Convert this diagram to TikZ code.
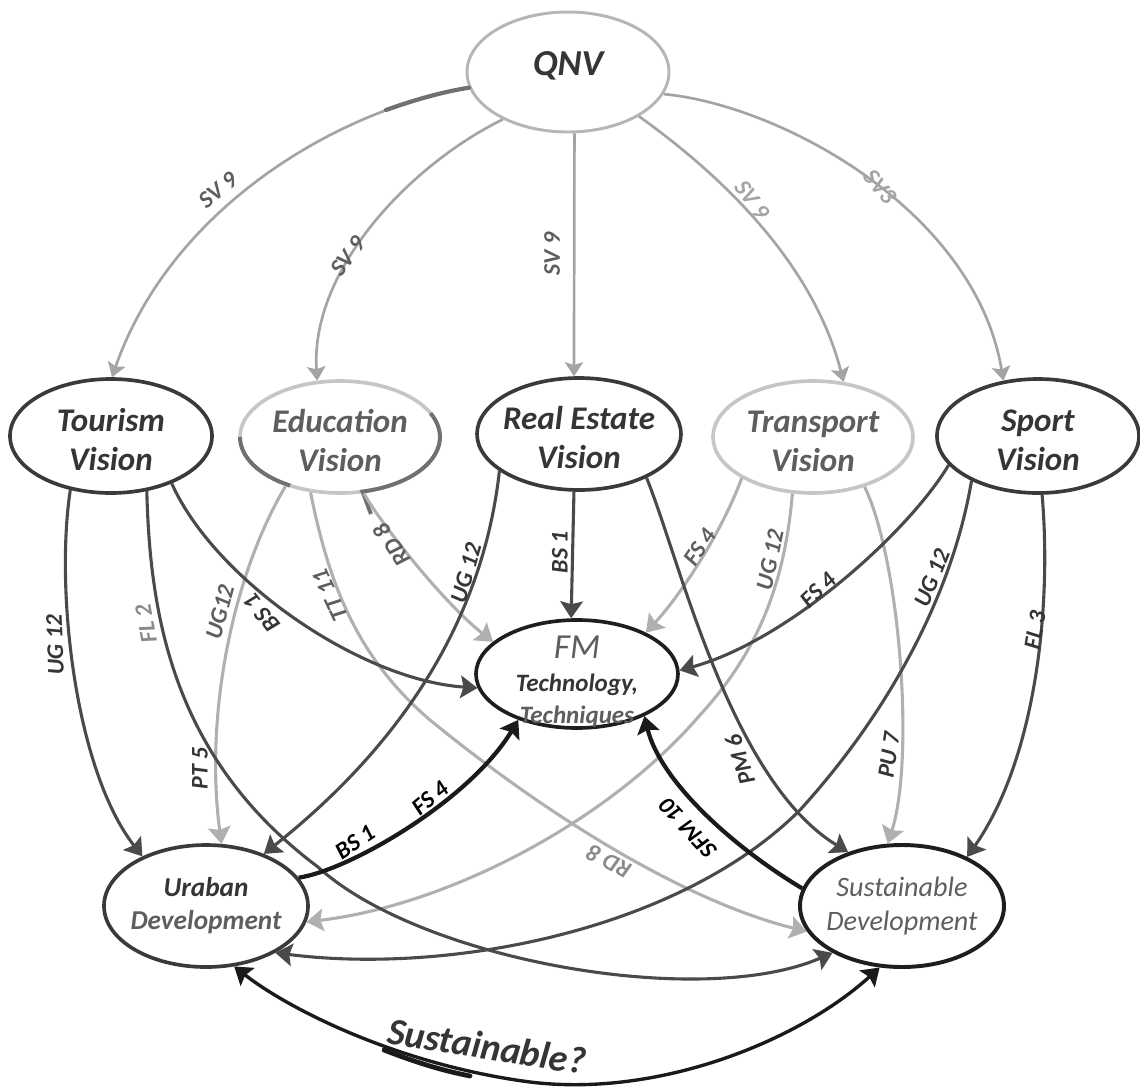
\documentclass[tikz,border=0pt]{standalone}
\usepackage{fontspec}
\setmainfont{Carlito}
\usetikzlibrary{arrows.meta,shapes.geometric}

\definecolor{ovaldark}{HTML}{3A3A3A}
\definecolor{ovalpale}{HTML}{C6C6C6}
\definecolor{ovalqnv}{HTML}{B6B6B6}
\definecolor{ovalblack}{HTML}{1E1E1E}
\definecolor{inkdark}{HTML}{353535}
\definecolor{inkmid}{HTML}{5E5E5E}
\definecolor{inklight}{HTML}{8A8A8A}
\definecolor{inkfaint}{HTML}{A4A4A4}
\definecolor{edgedark}{HTML}{4A4A4A}
\definecolor{edgepale}{HTML}{B0B0B0}
\definecolor{edgeqnv}{HTML}{A4A4A4}
\definecolor{edgeblack}{HTML}{1A1A1A}
\definecolor{rimdark}{HTML}{707070}

\begin{document}
\begin{tikzpicture}[x=0.025cm, y=-0.025cm,
  oval/.style={ellipse, draw, inner sep=-20pt, align=center},
  dims/.style 2 args={minimum width={#1*0.025cm}, minimum height={#2*0.025cm}},
  vis/.style={oval, line width=2.6pt, font=\fontsize{23.5}{27.6}\selectfont\bfseries\itshape},
  visdark/.style={vis, draw=ovaldark, text=inkdark},
  vispale/.style={vis, draw=ovalpale, text=inkmid},
  conn/.style={line width=2.2pt, -{Stealth[length=12pt,width=16pt,inset=2pt]}},
  darkc/.style={conn, draw=edgedark},
  palec/.style={conn, draw=edgepale},
  qnvc/.style={line width=1.9pt, draw=edgeqnv, -{Stealth[length=10pt,width=13pt,inset=2pt]}},
  blackc/.style={conn, line width=3pt, draw=edgeblack},
  bothc/.style={line width=2.4pt, draw=edgeblack,
    {Stealth[length=12pt,width=16pt,inset=2pt]}-{Stealth[length=12pt,width=16pt,inset=2pt]}},
  lbl/.style={font=\fontsize{17}{20}\selectfont\bfseries\itshape, inner sep=1pt}
]
\useasboundingbox (0,0) rectangle (1140,1087);

% ---------- ovals ----------
\node[oval, dims={202}{120}, draw=ovalqnv, line width=2.1pt, text=inkdark,
      font=\fontsize{26}{30}\selectfont\bfseries\itshape] (qnv) at (568,72)
      {QNV\rule[-12.5pt]{0pt}{12.5pt}};

\node[visdark, dims={202}{114}] (tour)  at (111,436)  {\rule{0pt}{21pt}Tourism\\Vision};
\node[vispale, dims={200}{112}] (edu)   at (340,437)  {\rule{0pt}{21pt}Education\\Vision};
\node[visdark, dims={204}{112}] (re)    at (579,434)  {\rule{0pt}{21pt}Real Estate\\Vision};
\node[vispale, dims={200}{112}] (trans) at (813,437)  {\rule{0pt}{21pt}Transport\\Vision};
\node[visdark, dims={202}{114}] (sport) at (1038,436) {\rule{0pt}{21pt}Sport\\Vision};

\node[oval, dims={202}{108}, draw=ovalblack, line width=2.6pt, text=inkdark,
      font=\fontsize{17.8}{23}\selectfont\bfseries\itshape] (fm) at (577,674)
      {{\mdseries\fontsize{25}{23}\selectfont\color{inkmid}\rule{0pt}{27pt}FM}\\
       Technology,\\{\color{inkmid}Techniques}};

\node[oval, dims={204}{122}, draw=ovaldark, line width=2.6pt, text=inkdark,
      font=\fontsize{19.4}{23.4}\selectfont\bfseries\itshape] (urb) at (206,906)
      {Uraban\\{\color{inkmid}Development}};

\node[oval, dims={204}{122}, draw=ovalblack, line width=2.8pt, text=inkmid,
      font=\fontsize{20}{23.5}\selectfont\itshape] (sus) at (902,906)
      {Sustainable\\Development};

% darker rim pieces on the Education oval
\draw[rimdark, line width=2.8pt] (240,437) arc[start angle=180, end angle=240, x radius=2.5cm, y radius=1.4cm];
\draw[rimdark, line width=2.8pt] (430.6,413.3) arc[start angle=25, end angle=-77, x radius=2.5cm, y radius=1.4cm]
      .. controls (366,500) and (368,507) .. (371,514);

% ---------- QNV to the visions ----------
\draw[qnvc] (qnv.189) .. controls (335,110) and (170,210) .. (tour.89);
\draw[line width=3pt, rimdark, line cap=round] (qnv.189) .. controls (442,92) and (414,100) .. (386,110);
\draw[qnvc] (qnv.216) .. controls (410,165) and (310,270) .. (edu.112);
\draw[qnvc] (qnv.-84) -- (re.95);
\draw[qnvc] (qnv.-32) .. controls (700,160) and (810,250) .. (trans.61);
\draw[qnvc] (qnv.-13) .. controls (780,105) and (975,210) .. (sport.122);

% ---------- Education (pale) ----------
\draw[palec] (edu.-138) .. controls (230,580) and (205,720) .. (urb.76);
\draw[palec] (edu.-67) .. controls (375,515) and (440,600) .. (fm.159);
\draw[palec] (edu.-118) .. controls (330,590) and (360,660) .. (430,720)
             .. controls (540,810) and (680,900) .. (sus.195);

% ---------- Transport (pale) ----------
\draw[palec] (trans.-150) .. controls (725,525) and (685,590) .. (fm.31);
\draw[palec] (trans.-110) .. controls (785,580) and (760,650) .. (700,715)
             .. controls (610,820) and (450,905) .. (urb.-9);
\draw[palec] (trans.-44) .. controls (900,560) and (915,760) .. (sus.103);

% ---------- Tourism ----------
\draw[darkc] (tour.-127) .. controls (55,590) and (75,770) .. (urb.142);
\draw[darkc] (tour.-57) .. controls (150,620) and (175,760) .. (318,867)
             .. controls (420,960) and (700,1010) .. (sus.214);
\draw[darkc] (tour.-38) .. controls (215,580) and (360,680) .. (fm.188);

% ---------- Real Estate ----------
\draw[darkc] (re.-155) .. controls (485,600) and (420,730) .. (urb.42);
\draw[darkc] (re.-95) -- (fm.96);
\draw[darkc] (re.-33) .. controls (680,560) and (730,780) .. (sus.135);

% ---------- Sport ----------
\draw[darkc] (sport.-162) .. controls (910,530) and (790,640) .. (fm.2);
\draw[darkc] (sport.-146) .. controls (955,580) and (900,700) .. (800,810)
             .. controls (680,930) and (450,975) .. (urb.-34);
\draw[darkc] (sport.-86) .. controls (1052,610) and (1035,760) .. (sus.37);

% ---------- developments to FM ----------
\draw[blackc] (urb.17) .. controls (350,870) and (470,800) .. (fm.-142);
\draw[blackc] (sus.170) .. controls (730,845) and (660,780) .. (fm.-32);

% ---------- Urban <-> Sustainable ----------
\draw[bothc] (urb.-65) .. controls (290,1010) and (400,1065) .. (530,1082)
             .. controls (660,1098) and (800,1040) .. (sus.-110);
\draw[line width=3.4pt, edgeblack, line cap=round] (384,1050) .. controls (415,1062) and (440,1070) .. (470,1076);

% ---------- connector labels ----------
\node[lbl, text=inkmid, rotate=40]    (l-sv1) at (218,190) {SV 9};
\node[lbl, text=inkmid, rotate=52]    (l-sv2) at (348,256) {SV 9};
\node[lbl, text=inkmid, rotate=90]    (l-sv3) at (552,254) {SV 9};
\node[lbl, text=inkfaint, rotate=-55] (l-sv4) at (752,200) {SV 9};
\node[lbl, text=inkfaint, rotate=-50] (l-sv5) at (880,187) {SV3};

\node[lbl, text=inkdark, rotate=92]   (l-tu)  at (55,645)  {UG 12};
\node[lbl, text=inklight, rotate=100] (l-ts)  at (146,624) {FL 2};
\node[lbl, text=inkdark, rotate=128]  (l-tf)  at (262,613) {BS 1};

\node[lbl, text=inkmid, rotate=75]    (l-eu1) at (220,612) {UG12};
\node[lbl, text=inkdark, rotate=90]   (l-eu2) at (200,768) {PT 5};
\node[lbl, text=inkmid, rotate=124]   (l-ef)  at (392,545) {RD 8};
\node[lbl, text=inkmid, rotate=115]   (l-es1) at (330,595) {TT 11};
\node[lbl, text=inklight, rotate=152] (l-es2) at (609,862) {RD 8};

\node[lbl, text=inkdark, rotate=74]   (l-ru)  at (466,573) {UG 12};
\node[lbl, text=inkdark, rotate=90]   (l-rf)  at (560,552) {BS 1};
\node[lbl, text=inkdark, rotate=108]  (l-rs)  at (740,760) {PM 6};

\node[lbl, text=inkmid, rotate=56]    (l-xf)  at (700,547) {FS 4};
\node[lbl, text=inkmid, rotate=78]    (l-xu)  at (770,560) {UG 12};
\node[lbl, text=inkdark, rotate=82]   (l-xs)  at (889,755) {PU 7};

\node[lbl, text=inkdark, rotate=44]   (l-sf)  at (818,590) {FS 4};
\node[lbl, text=inkdark, rotate=68]   (l-su)  at (932,578) {UG 12};
\node[lbl, text=inkdark, rotate=80]   (l-ss)  at (1035,630) {FL 3};

\node[lbl, text=black, rotate=34]     (l-uf1) at (355,842) {BS 1};
\node[lbl, text=black, rotate=40]     (l-uf2) at (430,798) {FS 4};
\node[lbl, text=black, rotate=133]    (l-sfm) at (688,828) {SFM 10};

\node[font=\fontsize{27}{30}\selectfont\bfseries\itshape, text=inkdark, rotate=-9] (ask) at (487,1046) {Sustainable?};
\end{tikzpicture}
\end{document}
